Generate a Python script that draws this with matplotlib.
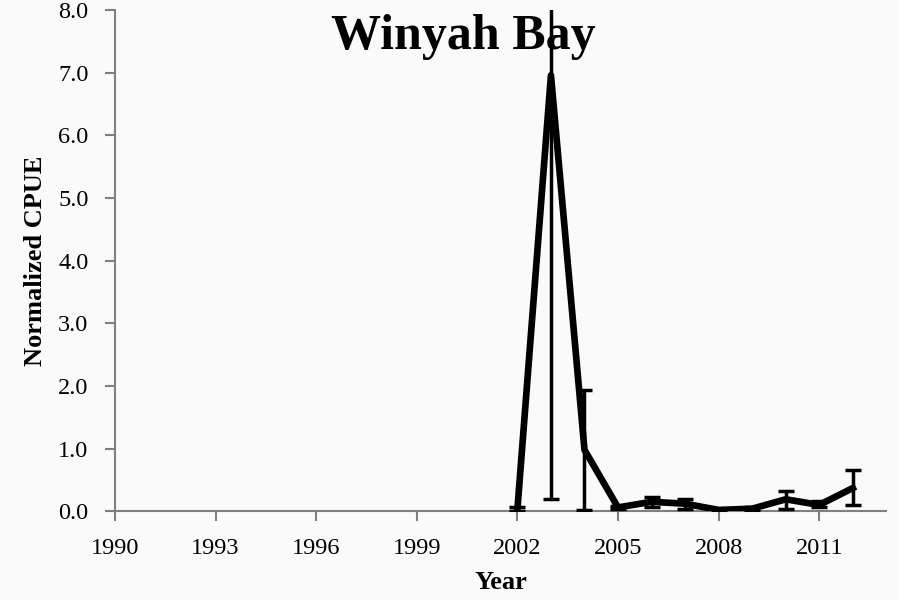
import numpy as np
import matplotlib.pyplot as plt

# normalized CPUE by survey year
years = [2002, 2003, 2004, 2005, 2006, 2007, 2008, 2009, 2010, 2011, 2012]
cpue = [0.03, 6.96, 0.98, 0.06, 0.15, 0.12, 0.02, 0.04, 0.19, 0.10, 0.37]
err_lo = [0.00, 0.20, 0.02, 0.03, 0.06, 0.03, 0.01, 0.02, 0.04, 0.06, 0.10]
err_hi = [0.07, 9.50, 1.94, 0.09, 0.23, 0.19, 0.03, 0.06, 0.32, 0.16, 0.65]

xticks = [1990, 1993, 1996, 1999, 2002, 2005, 2008, 2011]
yticks = [0, 1, 2, 3, 4, 5, 6, 7, 8]

plt.rcParams['font.family'] = ['Liberation Serif', 'DejaVu Serif']

fig = plt.figure(figsize=(8.98, 6), dpi=100, facecolor='#fafafa')
ax = fig.add_axes([0.128, 0.148, 0.859, 0.835])
ax.set_facecolor('none')

c = np.array(cpue)
yerr = [c - np.array(err_lo), np.array(err_hi) - c]
ax.errorbar(years, cpue, yerr=yerr, color='black', lw=4.8,
            elinewidth=2.5, capsize=6, capthick=2.5, zorder=3)

ax.set_xlim(1990, 2013)
ax.set_ylim(0, 8)
ax.set_xticks(xticks)
ax.set_xticklabels([str(t) for t in xticks])
ax.set_yticks(yticks)
ax.set_yticklabels(['%.1f' % t for t in yticks])

for s in ['top', 'right']:
    ax.spines[s].set_visible(False)
for s in ['left', 'bottom']:
    ax.spines[s].set_color('#808080')
    ax.spines[s].set_linewidth(1.5)
ax.tick_params(axis='both', direction='out', length=7, width=1.5,
               color='#808080', labelsize=17.5)
ax.tick_params(axis='x', pad=12)
ax.tick_params(axis='y', pad=12)

ax.set_xlabel('Year', fontsize=19, fontweight='bold', labelpad=9)
ax.set_ylabel('Normalized CPUE', fontsize=19, fontweight='bold', labelpad=8)
fig.text(0.516, 0.938, 'Winyah Bay', ha='center', va='center',
         fontsize=36, fontweight='bold')

fig.savefig('out.png', dpi=100, facecolor=fig.get_facecolor())
